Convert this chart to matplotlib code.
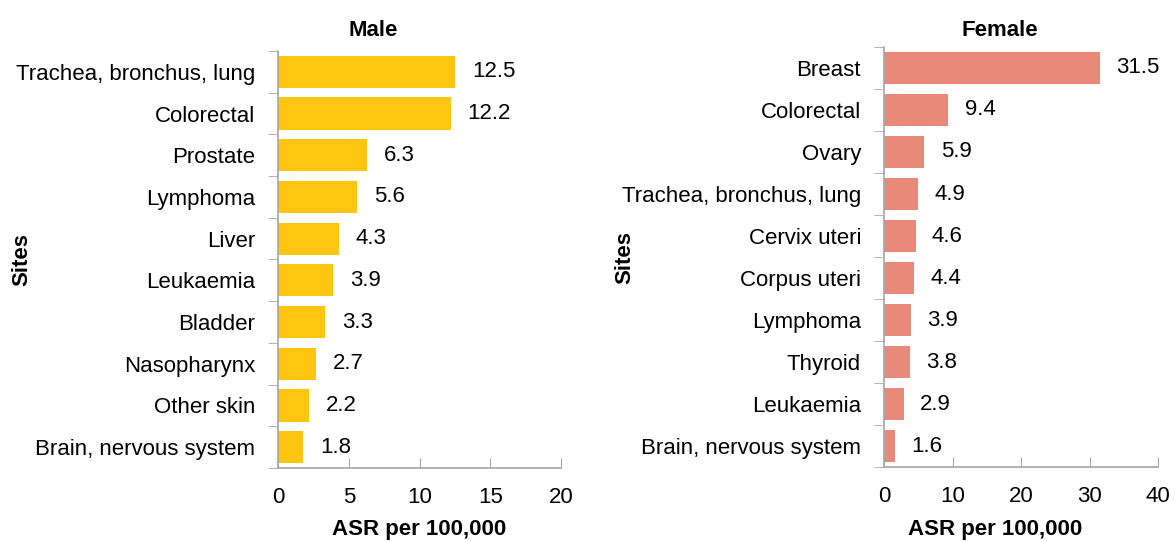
import matplotlib
matplotlib.use("Agg")
import matplotlib.pyplot as plt
from matplotlib import font_manager as fm

names = {f.name for f in fm.fontManager.ttflist}
fam = ["Liberation Sans Narrow", "Liberation Sans", "DejaVu Sans"]
fam = [f for f in fam if f in names] or ["DejaVu Sans"]
plt.rcParams["font.family"] = fam

male_sites = ["Trachea, bronchus, lung", "Colorectal", "Prostate", "Lymphoma", "Liver",
              "Leukaemia", "Bladder", "Nasopharynx", "Other skin", "Brain, nervous system"]
male_vals = [12.5, 12.2, 6.3, 5.6, 4.3, 3.9, 3.3, 2.7, 2.2, 1.8]
female_sites = ["Breast", "Colorectal", "Ovary", "Trachea, bronchus, lung", "Cervix uteri",
                "Corpus uteri", "Lymphoma", "Thyroid", "Leukaemia", "Brain, nervous system"]
female_vals = [31.5, 9.4, 5.9, 4.9, 4.6, 4.4, 3.9, 3.8, 2.9, 1.6]

male_ticks = [0, 5, 10, 15, 20]
female_ticks = [0, 10, 20, 30, 40]

fig = plt.figure(figsize=(11.75, 5.42), dpi=100)
ax1 = fig.add_axes([278/1175, 1-468/542, (561-278)/1175, (468-51)/542])
ax2 = fig.add_axes([884/1175, 1-467/542, (1158-884)/1175, (467-47)/542])

FS = 16
grey = "#a6a6a6"

def panel(ax, sites, vals, ticks, color, title, off, tx, ty):
    n = len(sites)
    ypos = list(range(n))
    ax.barh(ypos, vals, height=0.77, color=color)
    ax.set_ylim(n - 0.5, -0.5)
    ax.set_xlim(ticks[0], ticks[-1])
    ax.set_xticks(ticks)
    ax.set_xticklabels([str(t) for t in ticks], fontsize=FS)
    ax.set_yticks(ypos)
    ax.set_yticklabels(sites, fontsize=FS)
    ax.tick_params(axis="y", length=0, pad=16.5)
    ax.set_yticks([i - 0.5 for i in range(n + 1)], minor=True)
    ax.tick_params(axis="y", which="minor", length=7, color=grey, direction="out")
    ax.tick_params(axis="x", length=7, color=grey, direction="in", pad=14)
    for s in ["top", "right"]:
        ax.spines[s].set_visible(False)
    for s in ["left", "bottom"]:
        ax.spines[s].set_color(grey)
        ax.spines[s].set_linewidth(1.2)
    for y, v in zip(ypos, vals):
        ax.text(v + off, y, f"{v:.1f}", va="center", ha="left", fontsize=FS)
    ax.text(tx, ty, title, transform=ax.transAxes, fontsize=FS, fontweight="bold",
            ha="center", va="center")
    ax.set_xlabel("ASR per 100,000", fontsize=FS, fontweight="bold")
    ax.set_ylabel("Sites", fontsize=FS, fontweight="bold")

panel(ax1, male_sites, male_vals, male_ticks, "#FFC510", "Male", 1.2, 0.336, 1.05)
panel(ax2, female_sites, female_vals, female_ticks, "#E8897A", "Female", 2.4, 0.423, 1.04)
ax1.yaxis.set_label_coords(-0.869, 0.5)
ax2.yaxis.set_label_coords(-0.908, 0.5)
ax1.xaxis.set_label_coords(0.5, -0.122)
ax2.xaxis.set_label_coords(0.405, -0.124)

fig.savefig("out.png", dpi=100)
